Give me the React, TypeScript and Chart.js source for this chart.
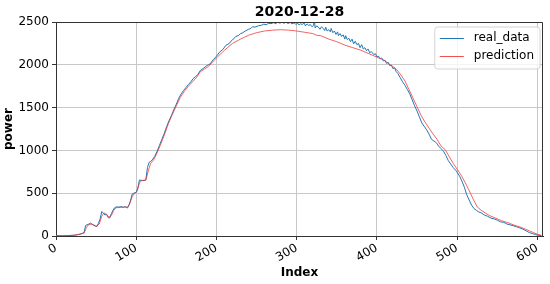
import React, { useEffect, useRef } from 'react';
import { Chart, registerables } from 'chart.js';

Chart.register(...registerables);

const TITLE = '2020-12-28';
const X_LABEL = 'Index';
const Y_LABEL = 'power';
const SERIES_NAMES = ['real_data', 'prediction'];
const X_MAX = 607;
const Y_MAX = 2500;
const X_TICKS = [0, 100, 200, 300, 400, 500, 600];
const Y_TICKS = [0, 500, 1000, 1500, 2000, 2500];

// [index, power]
const realData: [number, number][] = [
  [0, 5], [4, 3], [8, 2], [12, 4], [16, 6], [20, 8], [24, 10], [28, 18], [32, 28], [35, 40],
  [37, 125], [40, 135], [43, 150], [46, 130], [49, 115], [51, 110], [53, 150], [55, 200], [57, 285], [59, 270],
  [61, 245], [63, 255], [65, 215], [67, 210], [69, 260], [71, 300], [73, 330], [75, 340], [78, 338], [81, 342],
  [84, 335], [87, 345], [89, 325], [91, 360], [93, 420], [95, 490], [97, 500], [100, 510], [102, 560], [104, 655],
  [106, 650], [108, 648], [110, 650], [112, 660], [114, 800], [116, 860], [118, 870], [120, 890], [123, 930], [126, 990],
  [129, 1060], [132, 1130], [135, 1200], [138, 1280], [141, 1350], [144, 1410], [147, 1480], [150, 1540], [153, 1610], [156, 1660],
  [159, 1700], [162, 1735], [165, 1770], [168, 1800], [171, 1840], [174, 1860], [177, 1890], [180, 1935], [184, 1960], [188, 1990],
  [192, 2010], [196, 2060], [200, 2100], [204, 2150], [208, 2180], [212, 2230], [216, 2250], [218, 2275], [220, 2290], [224, 2330],
  [228, 2345], [230, 2365], [232, 2370], [236, 2395], [240, 2415], [243, 2425], [245, 2445], [248, 2440], [252, 2455], [256, 2462],
  [259, 2475], [262, 2468], [265, 2485], [268, 2480], [271, 2492], [274, 2480], [276, 2498], [279, 2487], [282, 2500], [284, 2485],
  [287, 2497], [289, 2482], [292, 2495], [294, 2478], [297, 2490], [299, 2470], [301, 2488], [303, 2465], [305, 2480], [307, 2470],
  [309, 2490], [311, 2455], [313, 2478], [315, 2460], [317, 2470], [319, 2445], [321, 2460], [322, 2525], [323, 2430], [325, 2455],
  [327, 2440], [329, 2415], [331, 2445], [333, 2425], [335, 2400], [336, 2440], [338, 2395], [340, 2410], [342, 2385], [343, 2425],
  [345, 2375], [347, 2395], [349, 2355], [351, 2385], [352, 2340], [354, 2365], [356, 2330], [358, 2350], [360, 2300], [361, 2340],
  [363, 2295], [365, 2310], [367, 2270], [369, 2300], [371, 2245], [373, 2275], [375, 2235], [377, 2250], [379, 2200], [381, 2235],
  [383, 2185], [385, 2200], [387, 2165], [389, 2185], [391, 2140], [393, 2155], [396, 2120], [398, 2130], [400, 2095], [402, 2100],
  [404, 2070], [406, 2080], [408, 2045], [410, 2050], [412, 2015], [414, 2030], [416, 1990], [418, 1995], [420, 1955], [422, 1965],
  [424, 1920], [426, 1900], [429, 1850], [432, 1800], [435, 1760], [438, 1710], [441, 1660], [444, 1590], [447, 1520], [450, 1460],
  [453, 1390], [456, 1320], [459, 1280], [462, 1240], [465, 1190], [468, 1130], [471, 1110], [474, 1090], [477, 1050], [480, 1020],
  [483, 990], [486, 940], [489, 880], [492, 840], [495, 800], [498, 770], [500, 745], [503, 700], [506, 640], [509, 570],
  [512, 480], [515, 420], [518, 360], [521, 320], [524, 300], [527, 280], [530, 270], [534, 245], [538, 230], [542, 210],
  [546, 200], [550, 185], [554, 165], [558, 160], [562, 140], [566, 130], [570, 120], [574, 108], [578, 95], [582, 80],
  [586, 60], [590, 40], [594, 28], [598, 15], [602, 8], [605, 5],
];

const predData: [number, number][] = [
  [0, 2], [10, 3], [20, 6], [30, 20], [35, 35], [38, 100], [41, 135], [45, 140], [50, 115], [54, 140],
  [57, 230], [60, 270], [63, 250], [66, 220], [69, 240], [72, 300], [75, 330], [80, 335], [85, 338], [89, 335],
  [92, 380], [95, 460], [98, 500], [101, 520], [104, 620], [107, 650], [112, 650], [115, 760], [118, 850], [121, 880],
  [125, 950], [130, 1060], [135, 1180], [140, 1310], [145, 1420], [150, 1520], [155, 1620], [160, 1690], [165, 1750], [170, 1800],
  [175, 1850], [180, 1920], [185, 1950], [190, 1980], [195, 2030], [200, 2080], [210, 2170], [220, 2250], [230, 2300], [240, 2345],
  [250, 2375], [260, 2395], [270, 2405], [280, 2410], [290, 2405], [300, 2395], [310, 2380], [320, 2365], [325, 2345], [330, 2340],
  [340, 2300], [350, 2270], [355, 2250], [360, 2230], [370, 2200], [380, 2170], [390, 2130], [400, 2090], [405, 2070], [410, 2050],
  [415, 2010], [420, 1980], [425, 1940], [430, 1880], [435, 1810], [440, 1710], [445, 1610], [450, 1510], [455, 1410], [460, 1330],
  [465, 1260], [470, 1190], [475, 1130], [480, 1050], [485, 1010], [490, 930], [495, 850], [500, 780], [505, 710], [510, 625],
  [515, 530], [520, 430], [525, 340], [530, 300], [535, 270], [540, 240], [545, 220], [550, 200], [555, 180], [560, 165],
  [565, 150], [570, 130], [575, 115], [580, 100], [585, 80], [590, 60], [595, 40], [600, 20], [605, 8],
];

const FONT = 'DejaVu Sans';
const BLUE = '#1f77b4';
const RED = 'rgba(240,50,50,0.85)';

const framePlugin = {
  id: 'frame',
  afterDatasetsDraw(chart: any) {
    const { ctx, chartArea } = chart;
    const { left, right, top, bottom } = chartArea;
    ctx.save();
    ctx.strokeStyle = '#333';
    ctx.lineWidth = 1;
    ctx.beginPath();
    ctx.moveTo(left, Math.round(top) + 0.5);
    ctx.lineTo(Math.round(right) - 0.5, Math.round(top) + 0.5);
    ctx.lineTo(Math.round(right) - 0.5, bottom);
    ctx.stroke();
    ctx.restore();
  },
};

const legendPlugin = {
  id: 'boxLegend',
  afterDraw(chart: any) {
    const { ctx, chartArea } = chart;
    const ds = chart.data.datasets;
    ctx.save();
    ctx.font = `12px "${FONT}"`;
    let maxW = 0;
    ds.forEach((d: any) => { maxW = Math.max(maxW, ctx.measureText(d.label).width); });
    const lineLen = 24;
    const padX = 5;
    const gap = 10;
    const rowH = 18;
    const boxW = padX + lineLen + gap + maxW + 6;
    const boxH = rowH * ds.length + 6;
    const x0 = chartArea.right - 3 - boxW;
    const y0 = chartArea.top + 5;
    const r = 3;
    ctx.beginPath();
    ctx.moveTo(x0 + r, y0);
    ctx.lineTo(x0 + boxW - r, y0);
    ctx.quadraticCurveTo(x0 + boxW, y0, x0 + boxW, y0 + r);
    ctx.lineTo(x0 + boxW, y0 + boxH - r);
    ctx.quadraticCurveTo(x0 + boxW, y0 + boxH, x0 + boxW - r, y0 + boxH);
    ctx.lineTo(x0 + r, y0 + boxH);
    ctx.quadraticCurveTo(x0, y0 + boxH, x0, y0 + boxH - r);
    ctx.lineTo(x0, y0 + r);
    ctx.quadraticCurveTo(x0, y0, x0 + r, y0);
    ctx.closePath();
    ctx.fillStyle = 'rgba(255,255,255,0.8)';
    ctx.fill();
    ctx.strokeStyle = '#d4d4d4';
    ctx.lineWidth = 1;
    ctx.stroke();
    ds.forEach((d: any, i: number) => {
      const cy = y0 + 11 + i * rowH;
      ctx.strokeStyle = d.borderColor;
      ctx.lineWidth = 1;
      ctx.beginPath();
      ctx.moveTo(x0 + padX, cy + 0.5);
      ctx.lineTo(x0 + padX + lineLen, cy + 0.5);
      ctx.stroke();
      ctx.fillStyle = '#000';
      ctx.textBaseline = 'middle';
      ctx.textAlign = 'left';
      ctx.fillText(d.label, x0 + padX + lineLen + gap, cy);
    });
    ctx.restore();
  },
};

export default function App() {
  const ref = useRef<HTMLCanvasElement | null>(null);

  useEffect(() => {
    if (!ref.current) return;
    const chart = new Chart(ref.current, {
      type: 'line',
      data: {
        datasets: [
          {
            label: SERIES_NAMES[0],
            data: realData.map(([x, y]) => ({ x, y })),
            borderColor: BLUE,
            backgroundColor: BLUE,
            borderWidth: 1,
            pointRadius: 0,
            tension: 0,
            order: 1,
          },
          {
            label: SERIES_NAMES[1],
            data: predData.map(([x, y]) => ({ x, y })),
            borderColor: RED,
            backgroundColor: RED,
            borderWidth: 0.9,
            pointRadius: 0,
            tension: 0,
            order: 0,
          },
        ],
      },
      options: {
        responsive: false,
        animation: false,
        devicePixelRatio: 1,
        layout: { padding: { top: 0, right: 7, bottom: 0, left: 0 } },
        plugins: {
          legend: { display: false },
          tooltip: { enabled: false },
          title: {
            display: true,
            text: TITLE,
            fullSize: false,
            color: '#000',
            font: { family: FONT, size: 14, weight: 'bold', lineHeight: 1.2 },
            padding: { top: 4, bottom: 1.2 },
          },
        },
        scales: {
          x: {
            type: 'linear',
            min: 0,
            max: X_MAX,
            afterFit: (s: any) => { s.height = 48; },
            afterBuildTicks: (s: any) => { s.ticks = X_TICKS.map((value) => ({ value })); },
            ticks: {
              autoSkip: false,
              minRotation: 30,
              maxRotation: 30,
              padding: 1,
              color: '#000',
              font: { family: FONT, size: 12 },
              callback: (v: any) => String(v),
            },
            grid: { color: '#c8c8c8', tickColor: '#333', tickLength: 4, lineWidth: 1 },
            border: { color: '#333', width: 1 },
            title: {
              display: true,
              text: X_LABEL,
              color: '#000',
              font: { family: FONT, size: 12, weight: 'bold', lineHeight: 1.2 },
              padding: { top: 0, bottom: 4 },
            },
          },
          y: {
            type: 'linear',
            min: 0,
            max: Y_MAX,
            afterFit: (s: any) => { s.width = 56; },
            afterBuildTicks: (s: any) => { s.ticks = Y_TICKS.map((value) => ({ value })); },
            ticks: {
              autoSkip: false,
              padding: 3,
              color: '#000',
              font: { family: FONT, size: 12 },
              callback: (v: any) => String(v),
            },
            grid: { color: '#c8c8c8', tickColor: '#333', tickLength: 4, lineWidth: 1 },
            border: { color: '#333', width: 1 },
            title: {
              display: true,
              text: Y_LABEL,
              color: '#000',
              font: { family: FONT, size: 12, weight: 'bold', lineHeight: 1.2 },
              padding: { top: 2, bottom: 0 },
            },
          },
        },
      },
      plugins: [framePlugin, legendPlugin],
    });
    return () => chart.destroy();
  }, []);

  return (
    <div style={{ position: 'fixed', left: 0, top: 0, width: 550, height: 284, background: '#fff' }}>
      <canvas ref={ref} width={550} height={284} style={{ display: 'block', width: 550, height: 284 }} />
    </div>
  );
}
